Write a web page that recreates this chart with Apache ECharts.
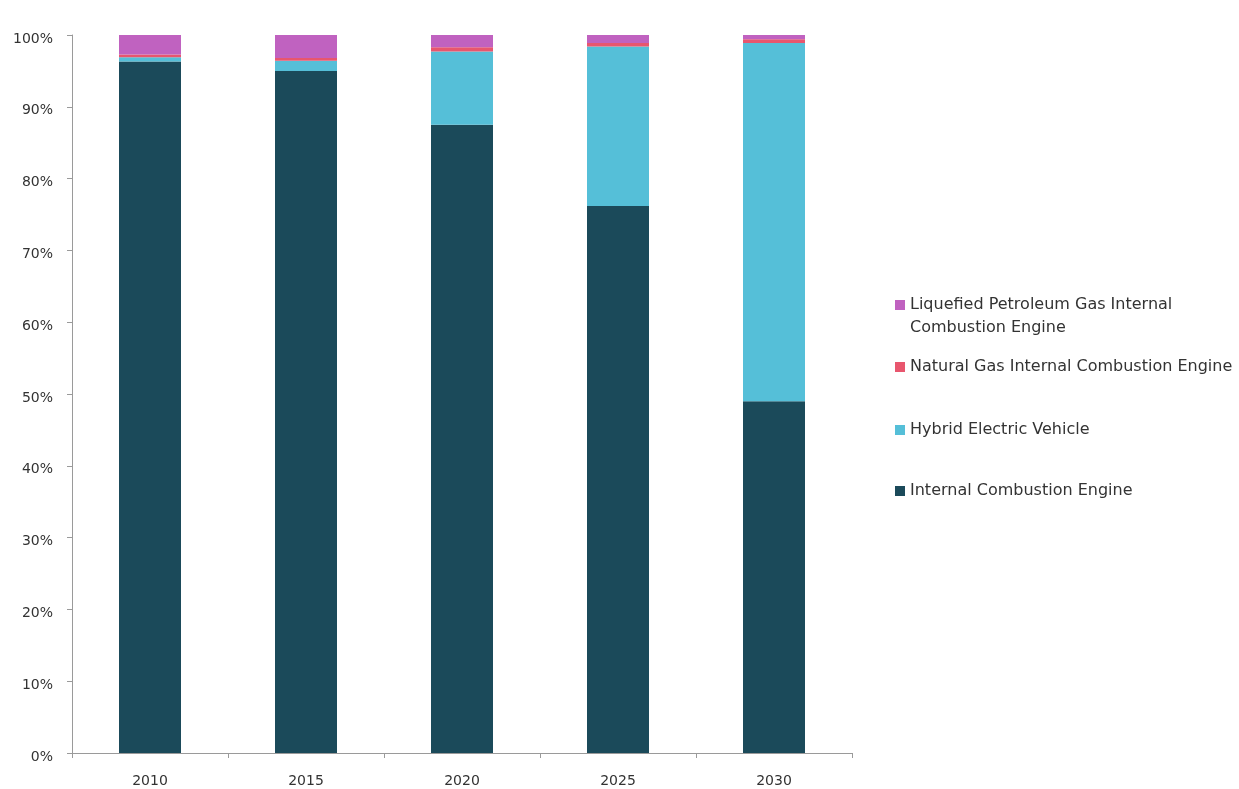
<!DOCTYPE html>
<html>
<head>
<meta charset="utf-8">
<script src="https://cdn.jsdelivr.net/npm/echarts@6/dist/echarts.min.js"></script>
<style>html,body{margin:0;padding:0;background:#fff;}#chart{width:1239px;height:789px;}</style>
</head>
<body>
<div id="chart"></div>
<script>
const categories = ['2010', '2015', '2020', '2025', '2030'];
const iceValues = [96.3, 95.0, 87.5, 76.2, 49.0];
const hybridValues = [0.6, 1.4, 10.2, 22.2, 49.9];
const naturalGasValues = [0.4, 0.4, 0.6, 0.5, 0.5];
const lpgValues = [2.7, 3.2, 1.7, 1.1, 0.6];
const yTickLabels = ['0%', '10%', '20%', '30%', '40%', '50%', '60%', '70%', '80%', '90%', '100%'];

const seriesNames = {
  ice: 'Internal Combustion Engine',
  hybrid: 'Hybrid Electric Vehicle',
  ng: 'Natural Gas Internal Combustion Engine',
  lpg: 'Liquefied Petroleum Gas Internal Combustion Engine'
};
const lpgFirstLine = 'Liquefied Petroleum Gas Internal';
const lpgSecondLine = 'Combustion Engine';
const colors = { ice: '#1b4a5a', hybrid: '#55bfd8', ng: '#e8566e', lpg: '#c062c0' };

const fontFam = '"DejaVu Sans", "Open Sans", sans-serif';
const chart = echarts.init(document.getElementById('chart'), null, { renderer: 'canvas' });

function legendAt(name, top) {
  return {
    data: [name], orient: 'vertical', left: 895, top: top, padding: 0,
    itemWidth: 10, itemHeight: 10, itemGap: 0, selectedMode: false,
    icon: 'rect',
    textStyle: { fontFamily: fontFam, fontSize: 16, color: '#333', lineHeight: 20 },
    formatter: function (n) { return n === seriesNames.lpg ? lpgFirstLine : n; }
  };
}

const option = {
  animation: false,
  backgroundColor: '#fff',
  grid: { left: 72, right: 387, top: 35, bottom: 36, containLabel: false },
  legend: [
    legendAt(seriesNames.lpg, 295),
    legendAt(seriesNames.ng, 357),
    legendAt(seriesNames.hybrid, 420),
    legendAt(seriesNames.ice, 481)
  ],
  graphic: [{
    type: 'text', left: 910, top: 320,
    style: { text: lpgSecondLine, font: '16px ' + fontFam, fill: '#333' }
  }],
  xAxis: {
    type: 'category', data: categories, boundaryGap: true,
    axisLine: { show: true, lineStyle: { color: '#9a9a9a', width: 1 } },
    axisTick: { show: true, alignWithLabel: false, length: 5, inside: false, lineStyle: { color: '#9a9a9a' } },
    axisLabel: { margin: 21, fontFamily: fontFam, fontSize: 14, color: '#333' },
    splitLine: { show: false }
  },
  yAxis: {
    type: 'value', min: 0, max: 100, interval: 10,
    axisLine: { show: true, lineStyle: { color: '#9a9a9a', width: 1 } },
    axisTick: { show: true, length: 5, lineStyle: { color: '#9a9a9a' } },
    axisLabel: {
      margin: 19, fontFamily: fontFam, fontSize: 14, color: '#333',
      verticalAlign: 'top', lineHeight: 8,
      formatter: function (v) { return yTickLabels[Math.round(v / 10)]; }
    },
    splitLine: { show: false }
  },
  series: [
    { name: seriesNames.ice, type: 'bar', stack: 's', data: iceValues, barWidth: 62, itemStyle: { color: colors.ice } },
    { name: seriesNames.hybrid, type: 'bar', stack: 's', data: hybridValues, barWidth: 62, itemStyle: { color: colors.hybrid } },
    { name: seriesNames.ng, type: 'bar', stack: 's', data: naturalGasValues, barWidth: 62, itemStyle: { color: colors.ng } },
    { name: seriesNames.lpg, type: 'bar', stack: 's', data: lpgValues, barWidth: 62, itemStyle: { color: colors.lpg } }
  ]
};
chart.setOption(option);
</script>
</body>
</html>
